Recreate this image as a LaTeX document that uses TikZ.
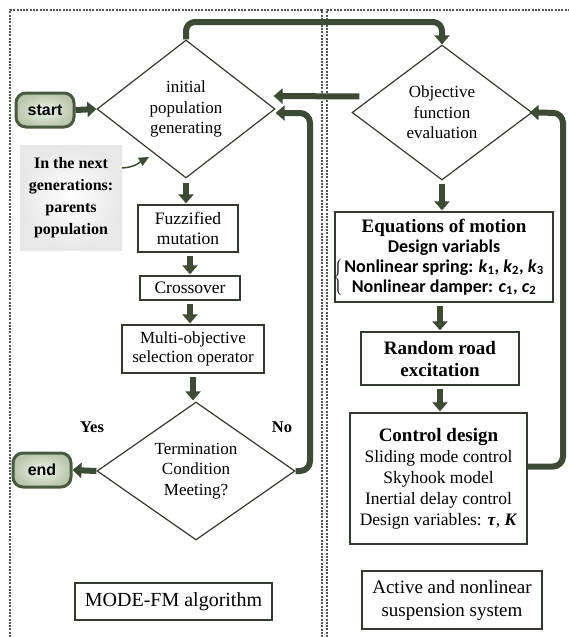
\documentclass[tikz,border=0pt]{standalone}
\usepackage{fontspec}
\setmainfont{Liberation Serif}
\setsansfont{Liberation Sans}
\newfontfamily\calib{Carlito}
\usetikzlibrary{shapes.geometric,arrows.meta,calc}
\definecolor{dkg}{HTML}{3C4A36}
\definecolor{dkline}{HTML}{333A30}
\definecolor{panelc}{HTML}{555555}
\definecolor{termfill}{HTML}{EEF3E8}
\definecolor{termout}{HTML}{B9C6AE}
\definecolor{termedge}{HTML}{4A5A41}
\newcommand{\myfs}[2]{\fontsize{#1}{#2}\selectfont}
\newcommand{\kk}[2]{\textbf{\textit{#1}}\textsubscript{\textbf{#2}}}
\newcommand{\bigbrace}{\llap{\smash{\raisebox{-10pt}{$\left\{\vrule width 0pt height 22.9pt depth 14.1pt\right.$}}\hspace{0.5pt}}}
\begin{document}
\begin{tikzpicture}[x=1pt,y=-1pt,
  panel/.style={draw=panelc, line width=1.5pt, dash pattern=on 2pt off 1.3pt},
  bigarrow/.style={draw=dkg, line width=6pt, -{Triangle[width=15pt,length=9pt]}},
  thinarrow/.style={draw=dkg, line width=1.5pt, -{Triangle[width=9pt,length=10pt]}},
  diam/.style={diamond, draw=dkline, line width=1.2pt, fill=white, inner sep=0pt, aspect=1.3,
    align=center, font=\myfs{17}{20.5}},
  box/.style={draw=dkline, line width=1.3pt, fill=white, align=center, inner sep=1pt,
    font=\myfs{17.5}{20.5}},
  term/.style={rounded corners=10pt, draw=termedge, line width=3pt, inner color=termfill,
    outer color=termout, minimum width=58pt, minimum height=34pt, inner sep=0pt,
    font=\sffamily\bfseries\myfs{16}{18}},
  lbl/.style={font=\bfseries\myfs{16.5}{18}, inner sep=0pt}
]
\useasboundingbox (0,0) rectangle (569,637);

% panels
\draw[panel] (10,637) -- (10,10) -- (322,10) -- (322,637);
\draw[panel] (327,637) -- (327,10) -- (569,10);

% left column nodes
\node[term] (start) at (45,110) {start};
\node[diam, minimum width=178pt, minimum height=138pt] (init) at (186,109) {initial\\population\\generating};
\node[inner sep=0pt, minimum width=102pt, minimum height=105pt, inner color=white, outer color=black!9,
  align=center, font=\bfseries\myfs{16}{22}] (nextgen) at (71,197.5) {In the next\\generations:\\parents\\population};
\node[box, minimum width=100pt, minimum height=47pt] (fuzz) at (188,228.5) {Fuzzified\\mutation};
\node[box, minimum width=100pt, minimum height=24pt] (cross) at (190,288) {Crossover};
\node[box, minimum width=142pt, minimum height=48pt, font=\myfs{17}{19}] (multi) at (193,349) {Multi-objective\\selection operator};
\node[diam, minimum width=198pt, minimum height=138pt] (termc) at (196,471) {Termination\\Condition\\Meeting?};
\node[term] (endn) at (42,470) {end};
\node[lbl] (yes) at (92,427) {Yes};
\node[lbl] (no) at (282,427) {No};
\node[box, minimum width=197pt, minimum height=37pt, font=\myfs{20}{22}] (mode) at (173.5,601.5) {MODE-FM algorithm};

% right column nodes
\node[diam, minimum width=180pt, minimum height=135pt] (obj) at (442,112.5) {Objective\\function\\evaluation};
\node[box, minimum width=218pt, minimum height=90pt, font=\calib\bfseries\myfs{18}{20}] (eq) at (444,257)
  {{\rmfamily\bfseries\myfs{19}{22}Equations of motion}\\
   Design variabls\\
   \bigbrace Nonlinear spring: \kk{k}{1}, \kk{k}{2}, \kk{k}{3}\\
   Nonlinear damper: \kk{c}{1}, \kk{c}{2}};
\node[box, minimum width=158pt, minimum height=53pt, font=\bfseries\myfs{19}{22}] (rand) at (440,358.5) {Random road\\excitation};
\node[box, minimum width=177pt, minimum height=131pt, font=\myfs{17.5}{21}] (ctrl) at (438.5,478.5)
  {{\bfseries\myfs{19}{21}Control design}\\Sliding mode control\\Skyhook model\\Inertial delay control\\Design variables: \textbf{\textit{τ}}, \textbf{\textit{K}}};
\node[box, minimum width=180pt, minimum height=58pt, font=\myfs{19}{23}] (active) at (452,600) {Active and nonlinear\\suspension system};

% coordinates
\coordinate (tcorner) at (442,22);
\coordinate (rloop) at (310,113);
\coordinate (rloop2) at (563,113);
\coordinate (ngtip) at (149,157);

% connectors
\draw[bigarrow] (start.east) -- (init.west);
\draw[bigarrow, shorten <=4pt, shorten >=1pt] (init.south) -- (init.south |- fuzz.north);
\draw[bigarrow, shorten <=3pt, shorten >=1pt] (fuzz.south -| cross.north) -- (cross.north);
\draw[bigarrow, shorten <=3pt, shorten >=1pt] (cross.south) -- (cross.south |- multi.north);
\draw[bigarrow, shorten <=3pt, shorten >=1pt] (multi.south) -- (multi.south |- termc.north);
\draw[bigarrow] (termc.west) -- (endn.east);
\draw[bigarrow, rounded corners=9pt] (init.north) |- (tcorner) -- (obj.north);
\draw[bigarrow] ([xshift=8pt,yshift=16pt]obj.west) -- ([xshift=-2pt,yshift=13pt]init.east);
\draw[bigarrow, rounded corners=10pt] (termc.east) -| (rloop) -- (init.east |- rloop);
\draw[bigarrow, rounded corners=10pt, shorten >=-3pt] ([yshift=12pt]ctrl.east) -| (rloop2) -- (obj.east);
\draw[thinarrow] ([yshift=29.5pt]nextgen.east) .. controls (136,167) and (140,162) .. (ngtip);
\draw[bigarrow, shorten <=3pt, shorten >=1pt] (obj.south) -- (obj.south |- eq.north);
\draw[bigarrow, shorten <=3pt, shorten >=1pt] (eq.south -| rand.north) -- (rand.north);
\draw[bigarrow, shorten <=3pt, shorten >=1pt] (rand.south) -- (rand.south |- ctrl.north);
\end{tikzpicture}
\end{document}
